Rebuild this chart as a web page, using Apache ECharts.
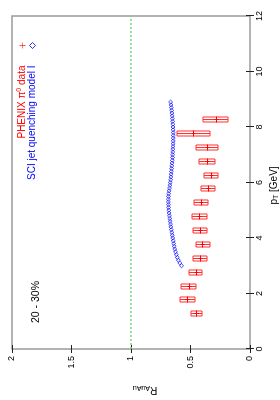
<!DOCTYPE html>
<html>
<head>
<meta charset="utf-8">
<script src="https://cdn.jsdelivr.net/npm/echarts@6/dist/echarts.min.js"></script>
<style>
html,body{margin:0;padding:0;width:280px;height:400px;overflow:hidden;background:#fff;}
#c{position:absolute;left:0;top:0;width:400px;height:280px;transform-origin:0 0;transform:translate(0,400px) rotate(-90deg);}
</style>
</head>
<body>
<div id="c"></div>
<script>
// PHENIX pi0 R_AuAu, 20-30% centrality
const pT    = [1.25, 1.75, 2.25, 2.75, 3.25, 3.75, 4.25, 4.75, 5.25, 5.75, 6.25, 6.75, 7.25, 7.75, 8.25];
const rData = [0.451, 0.527, 0.513, 0.451, 0.420, 0.401, 0.420, 0.426, 0.409, 0.353, 0.328, 0.364, 0.361, 0.476, 0.288];
const rLow  = [0.400, 0.465, 0.450, 0.400, 0.360, 0.334, 0.360, 0.360, 0.350, 0.290, 0.270, 0.290, 0.270, 0.340, 0.187];
const rHigh = [0.500, 0.586, 0.580, 0.510, 0.476, 0.454, 0.476, 0.485, 0.470, 0.410, 0.390, 0.430, 0.450, 0.610, 0.392];

// SCI jet quenching model I
const modelPT = [3.0,3.1,3.2,3.3,3.4,3.5,3.6,3.7,3.8,3.9,4.0,4.1,4.2,4.3,4.4,4.5,4.6,4.7,4.8,4.9,
                 5.0,5.1,5.2,5.3,5.4,5.5,5.6,5.7,5.8,5.9,6.0,6.1,6.2,6.3,6.4,6.5,6.6,6.7,6.8,6.9,
                 7.0,7.1,7.2,7.3,7.4,7.5,7.6,7.7,7.8,7.9,8.0,8.1,8.2,8.3,8.4,8.5,8.6,8.7,8.8,8.9];
const modelR  = [0.575,0.590,0.602,0.611,0.619,0.626,0.632,0.637,0.641,0.645,0.649,0.653,0.657,0.661,0.665,0.668,0.671,0.674,0.677,0.680,
                 0.682,0.684,0.685,0.686,0.686,0.685,0.683,0.680,0.676,0.673,0.670,0.667,0.665,0.663,0.661,0.659,0.657,0.655,0.653,0.651,
                 0.650,0.649,0.648,0.647,0.646,0.645,0.645,0.645,0.645,0.646,0.647,0.648,0.650,0.652,0.654,0.656,0.658,0.661,0.664,0.667];

const pTTicks = [0, 12, 2];      // min, max, interval
const rTicks  = [0, 2, 0.5];
const centralityLabel = '20 - 30%';
const refLine = 1;

const FONT = 'Liberation Sans, Arial, Helvetica, sans-serif';
const RED = '#ff0000', BLUE = '#0000ff', BOX = '#ff3030';
const chart = echarts.init(document.getElementById('c'), null, {renderer: 'canvas'});

const phenixData = pT.map((x, i) => [x, rData[i], rLow[i], rHigh[i]]);
const modelData = modelPT.map((x, i) => [x, modelR[i]]);

const tickStyle = {show: true, inside: true, length: 4, lineStyle: {color: '#222', width: 1}};

const option = {
  animation: false,
  textStyle: {fontFamily: FONT},
  grid: {left: 51, right: 16, top: 12, bottom: 30, show: true, borderColor: '#9a9a9a', borderWidth: 1.5, outerBoundsMode: 'none'},
  xAxis: [{
    type: 'value', position: 'bottom', min: pTTicks[0], max: pTTicks[1], interval: pTTicks[2],
    axisLine: {show: false}, splitLine: {show: false}, axisTick: tickStyle,
    axisLabel: {fontSize: 9, color: '#000', margin: 5, fontFamily: FONT},
    name: '{p|p}{t|T} [GeV]', nameLocation: 'middle', nameGap: 18,
    nameTextStyle: {fontSize: 10, color: '#000', fontFamily: FONT, padding: [0, 6, 0, 0],
      rich: {p: {fontSize: 10, fontFamily: FONT}, t: {fontSize: 7, fontFamily: FONT, padding: [5, 0, 0, 0]}}}
  }, {
    type: 'value', position: 'top', min: pTTicks[0], max: pTTicks[1], interval: pTTicks[2],
    axisLine: {show: false}, splitLine: {show: false}, axisTick: tickStyle, axisLabel: {show: false}
  }],
  yAxis: [{
    type: 'value', position: 'left', min: rTicks[0], max: rTicks[1], interval: rTicks[2],
    axisLine: {show: false}, splitLine: {show: false}, axisTick: tickStyle,
    axisLabel: {fontSize: 9, color: '#000', margin: 7, fontFamily: FONT},
    name: '{r|R}{s|AuAu}', nameLocation: 'middle', nameRotate: 90, nameGap: 35,
    nameTextStyle: {fontSize: 10, color: '#000', fontFamily: FONT, padding: [0, 28, 0, 0],
      rich: {r: {fontSize: 10, fontFamily: FONT}, s: {fontSize: 7, fontFamily: FONT, padding: [5, 0, 0, 0]}}}
  }, {
    type: 'value', position: 'right', min: rTicks[0], max: rTicks[1], interval: rTicks[2],
    axisLine: {show: false}, splitLine: {show: false}, axisTick: tickStyle, axisLabel: {show: false}
  }],
  legend: {
    orient: 'vertical', right: 37, top: 11, align: 'right', itemGap: 0,
    itemWidth: 6, itemHeight: 6,
    textStyle: {fontSize: 10, fontFamily: FONT, lineHeight: 10, padding: [0, 12, 0, 0],
      rich: {sup: {fontSize: 7, fontFamily: FONT, padding: [0, 0, 6, 0], color: RED}}},
    data: [
      {name: 'PHENIX π{sup|0} data', icon: 'path://M4,0h1v4h4v1h-4v4h-1v-4h-4v-1h4z',
       itemStyle: {color: RED}, textStyle: {color: RED}},
      {name: 'SCI jet quenching model I', icon: 'diamond',
       itemStyle: {color: '#ffffff', borderColor: BLUE, borderWidth: 1}, textStyle: {color: BLUE}}
    ]
  },
  graphic: [{
    type: 'text', left: 77, top: 31,
    style: {text: centralityLabel, fontSize: 10.5, fontFamily: FONT, fill: '#000'}
  }],
  series: [{
    name: 'SCI jet quenching model I', type: 'scatter', data: modelData,
    symbol: 'diamond', symbolSize: [4, 4],
    itemStyle: {color: 'transparent', borderColor: BLUE, borderWidth: 0.9},
    markLine: {
      silent: true, symbol: 'none', label: {show: false},
      lineStyle: {color: '#77dd77', type: [2, 2], width: 1.5, opacity: 1},
      data: [{yAxis: refLine}]
    },
    z: 3
  }, {
    name: 'PHENIX π{sup|0} data', type: 'custom', data: phenixData,
    itemStyle: {color: RED},
    encode: {x: 0, y: 1},
    renderItem: function (params, api) {
      const x = api.value(0), y = api.value(1), lo = api.value(2), hi = api.value(3);
      const c = api.coord([x, y]);
      const top = api.coord([x, hi])[1];
      const bot = api.coord([x, lo])[1];
      // box 5px wide (pT direction), outline on whole-pixel edges (soft 2px bands)
      const cx = Math.round(c[0]);
      const x1 = cx - 2, x2 = cx + 3;
      const y1 = Math.round(top), y2 = Math.round(bot);
      const mx = cx + 0.5;
      const cy = Math.round(c[1]) + 0.5;
      return {
        type: 'group',
        children: [
          {type: 'polyline', shape: {points: [[x1, y1], [x2, y1], [x2, y2], [x1, y2], [x1, y1]]},
           style: {fill: null, stroke: BOX, lineWidth: 1}},
          {type: 'line', shape: {x1: mx, y1: y1, x2: mx, y2: y2},
           style: {fill: null, stroke: BOX, lineWidth: 1}},
          {type: 'line', shape: {x1: mx - 3, y1: cy, x2: mx + 3, y2: cy},
           style: {fill: null, stroke: RED, lineWidth: 1}},
          {type: 'line', shape: {x1: mx, y1: cy - 2, x2: mx, y2: cy + 2},
           style: {fill: null, stroke: RED, lineWidth: 1}}
        ]
      };
    },
    z: 4
  }]
};
chart.setOption(option);
</script>
</body>
</html>
